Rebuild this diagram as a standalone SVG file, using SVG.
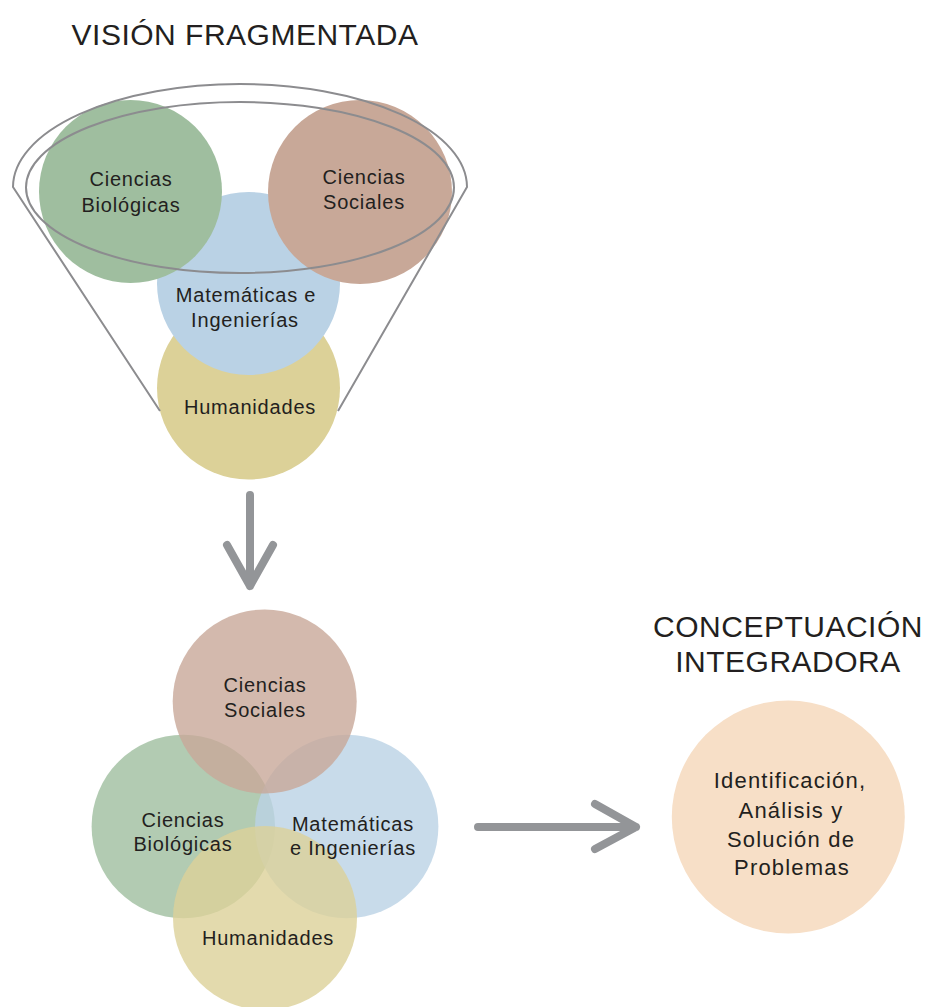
<svg xmlns="http://www.w3.org/2000/svg" width="926" height="1007" viewBox="0 0 926 1007">
<style>
.t{font-family:"Liberation Sans",Arial,sans-serif;fill:#231f20;text-anchor:middle}
.lbl{font-size:20px;letter-spacing:0.8px}
.big{font-size:22px;letter-spacing:1.2px}
.title{font-size:30px;letter-spacing:0.5px}
.g{fill:#9fbe9f}.b{fill:#c8a898}.u{fill:#bad2e5}.y{fill:#dcd198}
.soft{opacity:0.8}
.funnel{fill:none;stroke:#8c8c8f;stroke-width:2}
.arr{fill:none;stroke:#939598;stroke-width:8;stroke-linecap:round;stroke-linejoin:round}
</style>
<rect width="926" height="1007" fill="#ffffff"/>
<text class="t title" x="245" y="45">VISIÓN FRAGMENTADA</text>
<g id="top-humanidades"><circle class="y" cx="248.5" cy="388" r="91.5"/><text class="t lbl" x="250" y="414">Humanidades</text></g>
<g id="top-matematicas"><circle class="u" cx="248.5" cy="283.5" r="91.5"/><text class="t lbl" x="246" y="302">Matemáticas e</text><text class="t lbl" x="245" y="327">Ingenierías</text></g>
<g id="top-biologicas"><circle class="g" cx="130.5" cy="191.5" r="91.5"/><text class="t lbl" x="131" y="186">Ciencias</text><text class="t lbl" x="131" y="212">Biológicas</text></g>
<g id="top-sociales"><circle class="b" cx="360" cy="192" r="92"/><text class="t lbl" x="364" y="184">Ciencias</text><text class="t lbl" x="364" y="209">Sociales</text></g>
<g id="funnel">
<path class="funnel" d="M160 411 L13 187 A227 103 0 0 1 467 187 L338 411"/>
<ellipse class="funnel" cx="240" cy="187.5" rx="214" ry="85.5"/>
</g>
<g id="bottom-biologicas" class="soft"><circle class="g" cx="183.3" cy="826.5" r="91.7"/></g>
<g id="bottom-matematicas" class="soft"><circle class="u" cx="346.7" cy="826.5" r="91.7"/></g>
<g id="bottom-sociales" class="soft"><circle class="b" cx="264.7" cy="701.5" r="92"/></g>
<g id="bottom-humanidades" class="soft"><circle class="y" cx="265" cy="918" r="92"/></g>
<g id="bottom-labels">
<text class="t lbl" x="265" y="692">Ciencias</text><text class="t lbl" x="265" y="717">Sociales</text>
<text class="t lbl" x="183" y="827">Ciencias</text><text class="t lbl" x="183" y="851">Biológicas</text>
<text class="t lbl" x="353" y="831">Matemáticas</text><text class="t lbl" x="353" y="855">e Ingenierías</text>
<text class="t lbl" x="268" y="945">Humanidades</text>
</g>
<text class="t title" x="788" y="637">CONCEPTUACIÓN</text>
<text class="t title" x="788" y="672">INTEGRADORA</text>
<g id="integradora"><circle cx="788.3" cy="817" r="116.5" fill="#f7dfc7"/>
<text class="t big" x="790" y="788">Identificación,</text>
<text class="t big" x="791" y="818">Análisis y</text>
<text class="t big" x="791" y="847">Solución de</text>
<text class="t big" x="792" y="875">Problemas</text>
</g>
<g id="connectors">
<path class="arr" d="M250 495 V586 M227 545 L250 586 L273 545"/>
<path class="arr" d="M478 827 H636 M595 804 L636 827 L595 849"/>
</g>
</svg>
